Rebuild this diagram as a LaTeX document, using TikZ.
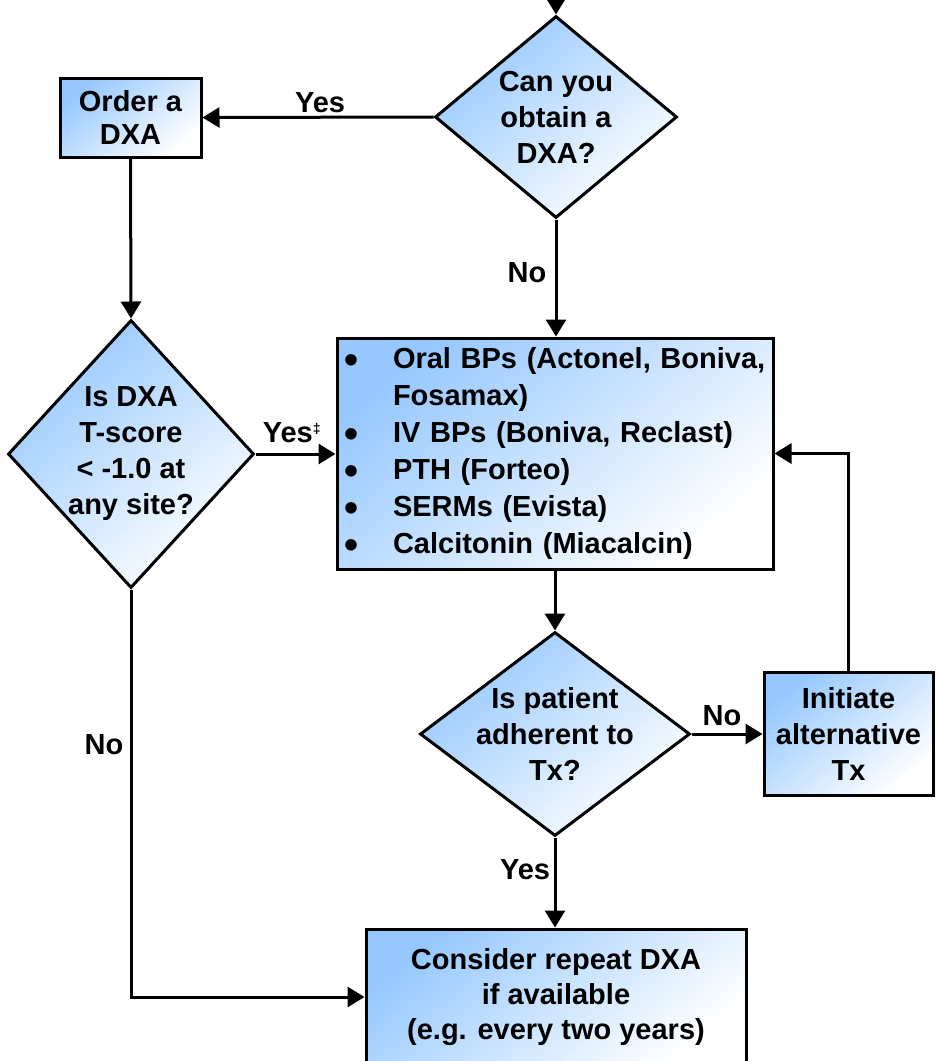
\documentclass[tikz,border=0pt]{standalone}
\usepackage{fontspec}
\setmainfont{Liberation Sans}
\usetikzlibrary{shapes.geometric,arrows.meta}
\definecolor{boxblue}{RGB}{150,200,255}
\newcommand{\bigbul}{\hspace{1pt}\raisebox{-5pt}{\fontsize{40}{37}\selectfont\textbullet}}
\tikzset{
  every node/.style={font=\fontsize{29}{36}\selectfont\bfseries},
  fillgrad/.style={shading=axis, top color=boxblue, bottom color=white, shading angle=40},
  box/.style={draw=black, line width=3pt, rectangle, fillgrad, align=center, inner sep=0pt},
  dia/.style={draw=black, line width=3pt, diamond, fillgrad, inner sep=0pt},
  txt/.style={align=center, inner sep=0pt},
  lbl/.style={inner sep=0pt},
  arr/.style={line width=3pt, -{Triangle[length=17pt,width=20pt]}},
  ln/.style={line width=3pt}
}
\begin{document}
\begin{tikzpicture}[x=1pt,y=-1pt]
\useasboundingbox (0,0) rectangle (938,1061);
\clip (0,0) rectangle (938,1061);
% nodes
\node[dia, minimum width=242, minimum height=202,
  label={[txt]center:Can you\\obtain a\\DXA?}] (q1) at (556,117) {};
\node[box, minimum width=141, minimum height=79] (order) at (130.5,117.5) {Order a\\[-3pt]DXA};
\node[dia, minimum width=246, minimum height=268,
  label={[txt]center:Is DXA\\T-score\\\textless{} -1.0 at\\any site?}] (q2) at (131,454) {};
\node[box, minimum width=436, minimum height=231, text width=424, inner xsep=6pt, align=left] (tx) at (555,453.5)
  {\fontsize{29}{37}\selectfont\setlength\tabcolsep{0pt}%
   \begin{tabular}{@{}p{50pt}@{}l@{}}
   \bigbul & Oral BPs (Actonel, Boniva,\\
               & Fosamax)\\
   \bigbul & IV BPs (Boniva, Reclast)\\
   \bigbul & PTH (Forteo)\\
   \bigbul & SERMs (Evista)\\
   \bigbul & Calcitonin (Miacalcin)
   \end{tabular}};
\node[dia, minimum width=270, minimum height=204,
  label={[txt]center:Is patient\\adherent to\\Tx?}] (q3) at (555,734) {};
\node[box, minimum width=169, minimum height=123] (alt) at (848.5,733.5) {Initiate\\alternative\\Tx};
\node[box, minimum width=380, minimum height=136] (fin) at (556,997) {Consider repeat DXA\\[-1pt]if available\\[-1pt](e.g. every two years)};
% labels
\node[lbl] (lyes1) at (320,103) {Yes};
\node[lbl] (lno1) at (527,273) {No};
\node[lbl] (lyes2) at (292,433) {Yes\textsuperscript{\fontsize{14}{14}\selectfont ‡}};
\node[lbl] (lno2) at (722,716) {No};
\node[lbl] (lyes3) at (525,870) {Yes};
\node[lbl] (lno3) at (104,745) {No};
% connectors
\coordinate (start) at (556,-10);
\draw[arr] (start) -- (q1.north);
\draw[arr] (q1.west) -- (order.east);
\draw[arr] (order.south) -- (q2.north);
\draw[arr] (q1.south) -- (tx.north -| q1.south);
\draw[arr] (q2.east) -- (tx.west |- q2.east);
\draw[arr] (tx.south -| q3.north) -- (q3.north);
\draw[arr] (q3.east) -- (alt.west |- q3.east);
\draw[arr] (alt.north) |- (tx.east);
\draw[arr] (q3.south) -- (fin.north -| q3.south);
\draw[arr] (q2.south) |- (fin.west);
\end{tikzpicture}
\end{document}
